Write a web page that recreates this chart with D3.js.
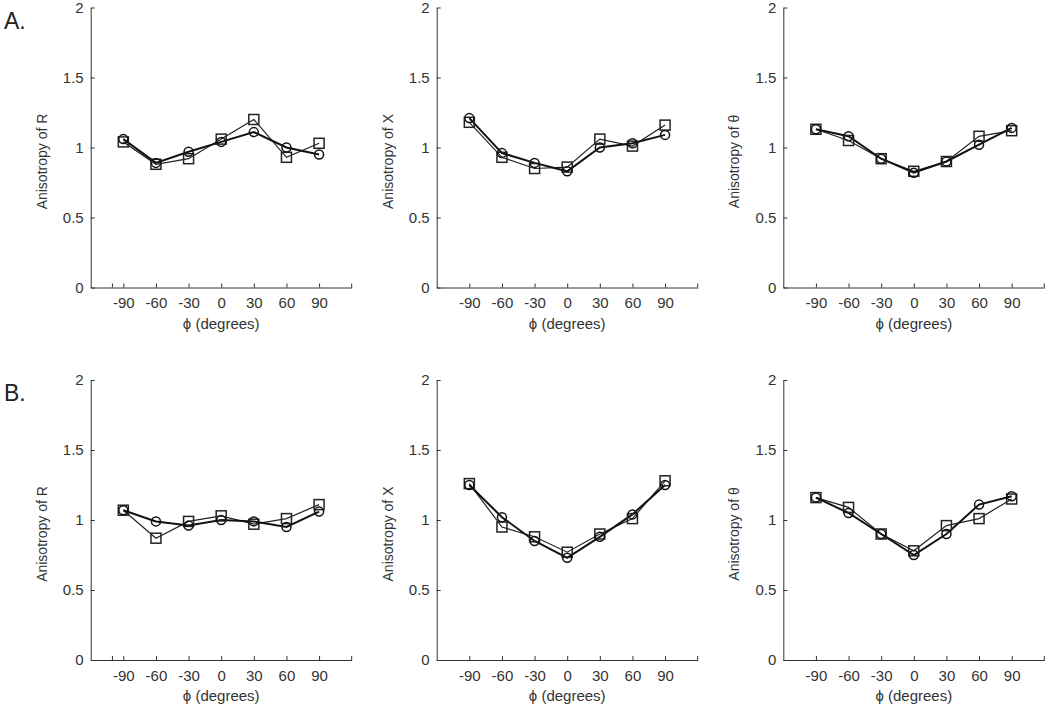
<!DOCTYPE html>
<html>
<head>
<meta charset="utf-8">
<script src="https://cdn.jsdelivr.net/npm/d3@7"></script>
<style>
  html, body { margin: 0; padding: 0; background: #fff; }
  svg { display: block; }
  text { font-family: "Liberation Sans", Arial, sans-serif; fill: #333; }
</style>
</head>
<body>
<svg id="chart" width="1050" height="714"></svg>
<script>
// ---- data ----
const phi = [-90, -60, -30, 0, 30, 60, 90];
const xTicks = [-90, -60, -30, 0, 30, 60, 90];
const yTicks = [0, 0.5, 1, 1.5, 2];
const xTitle = "ϕ (degrees)";
const yTitles = ["Anisotropy of R", "Anisotropy of X", "Anisotropy of θ"];
const rowLabels = ["A.", "B."];

// Row A
const aR_circle = [1.06, 0.89, 0.97, 1.04, 1.11, 1.00, 0.95];
const aR_square = [1.04, 0.88, 0.92, 1.06, 1.20, 0.93, 1.03];
const aX_circle = [1.21, 0.96, 0.89, 0.83, 1.00, 1.03, 1.09];
const aX_square = [1.18, 0.93, 0.85, 0.86, 1.06, 1.01, 1.16];
const aT_circle = [1.13, 1.08, 0.92, 0.82, 0.90, 1.02, 1.14];
const aT_square = [1.13, 1.05, 0.92, 0.83, 0.90, 1.08, 1.12];
// Row B
const bR_circle = [1.07, 0.99, 0.96, 1.00, 0.99, 0.95, 1.06];
const bR_square = [1.07, 0.87, 0.99, 1.03, 0.97, 1.01, 1.11];
const bX_circle = [1.25, 1.02, 0.85, 0.73, 0.88, 1.04, 1.25];
const bX_square = [1.26, 0.95, 0.88, 0.77, 0.90, 1.01, 1.28];
const bT_circle = [1.16, 1.05, 0.90, 0.75, 0.90, 1.11, 1.17];
const bT_square = [1.16, 1.09, 0.90, 0.78, 0.96, 1.01, 1.15];

const panels = [
  [ {c: aR_circle, s: aR_square}, {c: aX_circle, s: aX_square}, {c: aT_circle, s: aT_square} ],
  [ {c: bR_circle, s: bR_square}, {c: bX_circle, s: bX_square}, {c: bT_circle, s: bT_square} ]
];

// ---- layout ----
const axisLeftX = [90.7, 436.7, 783.3];
const rowBottom = [287.5, 660];
const plotW = 261, plotH = 280;

const svg = d3.select("#chart");

rowLabels.forEach((lab, r) => {
  svg.append("text")
    .attr("x", 4).attr("y", rowBottom[r] - plotH + 21)
    .attr("font-size", 23)
    .style("fill", "#222")
    .text(lab);
});

panels.forEach((row, r) => {
  row.forEach((p, c) => {
    const x0 = axisLeftX[c], y0 = rowBottom[r];
    const x = d3.scaleLinear().domain([-120, 120]).range([x0, x0 + plotW]);
    const y = d3.scaleLinear().domain([0, 2]).range([y0, y0 - plotH]);
    const g = svg.append("g");

    // axes
    const ax = g.append("g").attr("transform", `translate(0,${y0})`)
      .call(d3.axisBottom(x).tickValues(xTicks).tickSize(-4).tickSizeOuter(0).tickPadding(10)
        .tickFormat(d => String(d)));
    const ay = g.append("g").attr("transform", `translate(${x0},0)`)
      .call(d3.axisLeft(y).tickValues(yTicks).tickSize(-4).tickSizeOuter(0).tickPadding(7)
        .tickFormat(d => String(d)));
    [ax, ay].forEach(a => {
      a.selectAll("path.domain").attr("stroke", "#333").attr("stroke-width", 1);
      a.selectAll(".tick line").attr("stroke", "#333");
      a.selectAll(".tick text").attr("font-size", 15)
        .attr("font-family", "Liberation Sans, Arial, sans-serif").style("fill", "#333");
    });
    // extra unlabeled ticks
    const extra = c === 0 ? [-100, 120] : [120];
    extra.forEach(v => {
      g.append("line").attr("x1", x(v)).attr("x2", x(v))
        .attr("y1", y0).attr("y2", y0 - 4).attr("stroke", "#333");
    });

    // titles
    g.append("text")
      .attr("x", x(0)).attr("y", y0 + 41)
      .attr("text-anchor", "middle").attr("font-size", 15)
      .text(xTitle);
    g.append("text")
      .attr("transform", `translate(${x0 - 44},${y(1) + 14}) rotate(-90)`)
      .attr("text-anchor", "middle").attr("font-size", 14)
      .text(yTitles[c]);

    const line = d3.line().x((d, i) => x(phi[i])).y(d => y(d));

    // square series
    g.append("path").datum(p.s).attr("d", line)
      .attr("fill", "none").attr("stroke", "#222").attr("stroke-width", 1.2);
    // circle series
    g.append("path").datum(p.c).attr("d", line)
      .attr("fill", "none").attr("stroke", "#111").attr("stroke-width", 2);

    g.selectAll("rect.sq").data(p.s).enter().append("rect")
      .attr("x", (d, i) => x(phi[i]) - 5).attr("y", d => y(d) - 5)
      .attr("width", 10).attr("height", 10)
      .attr("fill", "none").attr("stroke", "#222").attr("stroke-width", 1.5);
    g.selectAll("circle.ci").data(p.c).enter().append("circle")
      .attr("cx", (d, i) => x(phi[i])).attr("cy", d => y(d)).attr("r", 4.5)
      .attr("fill", "none").attr("stroke", "#111").attr("stroke-width", 1.5);
  });
});
</script>
</body>
</html>
